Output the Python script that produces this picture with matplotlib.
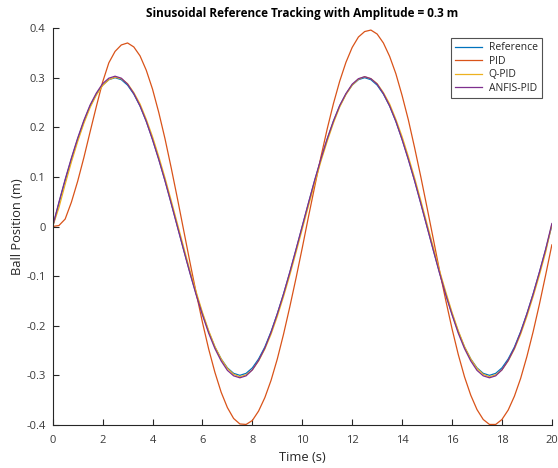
import numpy as np
import matplotlib
matplotlib.use("Agg")
import matplotlib.pyplot as plt

t_start, t_end, t_step = 0.0, 20.0, 0.25

reference = [
    0.000, 0.047, 0.093, 0.136, 0.176, 0.212, 0.243, 0.267, 0.285, 0.296,
    0.300, 0.296, 0.285, 0.267, 0.243, 0.212, 0.176, 0.136, 0.093, 0.047,
    0.000, -0.047, -0.093, -0.136, -0.176, -0.212, -0.243, -0.267, -0.285, -0.296,
    -0.300, -0.296, -0.285, -0.267, -0.243, -0.212, -0.176, -0.136, -0.093, -0.047,
    0.000, 0.047, 0.093, 0.136, 0.176, 0.212, 0.243, 0.267, 0.285, 0.296,
    0.300, 0.296, 0.285, 0.267, 0.243, 0.212, 0.176, 0.136, 0.093, 0.047,
    0.000, -0.047, -0.093, -0.136, -0.176, -0.212, -0.243, -0.267, -0.285, -0.296,
    -0.300, -0.296, -0.285, -0.267, -0.243, -0.212, -0.176, -0.136, -0.093, -0.047,
    0.002,
]

pid = [
    0.000, 0.002, 0.015, 0.049, 0.091, 0.139, 0.191, 0.242, 0.291, 0.330,
    0.353, 0.366, 0.370, 0.362, 0.344, 0.315, 0.277, 0.230, 0.177, 0.118,
    0.056, -0.008, -0.072, -0.134, -0.193, -0.247, -0.294, -0.334, -0.365, -0.387,
    -0.398, -0.399, -0.391, -0.372, -0.345, -0.310, -0.267, -0.217, -0.162, -0.104,
    -0.043, 0.020, 0.081, 0.141, 0.197, 0.248, 0.293, 0.331, 0.361, 0.382,
    0.393, 0.396, 0.388, 0.370, 0.343, 0.308, 0.264, 0.215, 0.159, 0.100,
    0.038, -0.025, -0.089, -0.149, -0.206, -0.258, -0.303, -0.340, -0.369, -0.389,
    -0.399, -0.399, -0.389, -0.370, -0.342, -0.306, -0.262, -0.212, -0.157, -0.098,
    -0.037,
]

q_pid = [
    0.000, 0.038, 0.085, 0.130, 0.171, 0.208, 0.240, 0.265, 0.284, 0.296,
    0.301, 0.298, 0.288, 0.270, 0.247, 0.216, 0.181, 0.141, 0.098, 0.052,
    0.005, -0.042, -0.089, -0.132, -0.173, -0.210, -0.242, -0.267, -0.286, -0.298,
    -0.303, -0.299, -0.289, -0.271, -0.247, -0.217, -0.181, -0.141, -0.098, -0.052,
    -0.005, 0.042, 0.088, 0.132, 0.172, 0.209, 0.241, 0.266, 0.285, 0.297,
    0.302, 0.298, 0.288, 0.270, 0.247, 0.216, 0.181, 0.141, 0.098, 0.052,
    0.005, -0.042, -0.089, -0.132, -0.173, -0.210, -0.242, -0.267, -0.286, -0.298,
    -0.303, -0.299, -0.289, -0.271, -0.247, -0.217, -0.181, -0.141, -0.098, -0.052,
    0.004,
]

anfis_pid = [
    0.000, 0.049, 0.095, 0.138, 0.178, 0.214, 0.245, 0.269, 0.288, 0.299,
    0.303, 0.299, 0.287, 0.268, 0.243, 0.212, 0.175, 0.135, 0.092, 0.046,
    -0.001, -0.048, -0.094, -0.138, -0.178, -0.215, -0.246, -0.271, -0.290, -0.301,
    -0.305, -0.301, -0.289, -0.270, -0.245, -0.213, -0.176, -0.136, -0.092, -0.046,
    0.001, 0.048, 0.094, 0.137, 0.177, 0.213, 0.244, 0.268, 0.287, 0.298,
    0.302, 0.298, 0.287, 0.268, 0.243, 0.212, 0.175, 0.135, 0.092, 0.046,
    -0.001, -0.048, -0.094, -0.138, -0.178, -0.215, -0.246, -0.271, -0.290, -0.301,
    -0.305, -0.301, -0.289, -0.270, -0.245, -0.213, -0.176, -0.136, -0.092, -0.046,
    0.006,
]

series_names = ["Reference", "PID", "Q-PID", "ANFIS-PID"]
series_colors = ["#0072BD", "#D95319", "#EDB120", "#7E2F8E"]
x_ticks = [0, 2, 4, 6, 8, 10, 12, 14, 16, 18, 20]
y_ticks = [-0.4, -0.3, -0.2, -0.1, 0, 0.1, 0.2, 0.3, 0.4]
y_tick_labels = ["-0.4", "-0.3", "-0.2", "-0.1", "0", "0.1", "0.2", "0.3", "0.4"]

plt.rcParams['font.family'] = ['Open Sans', 'DejaVu Sans']
gray = "#262626"
tick_gray = "#3a3a3a"

t = np.linspace(t_start, t_end, len(reference))

fig = plt.figure(figsize=(5.58, 4.68), dpi=100)
ax = fig.add_axes([0.0944, 0.092, 0.8946, 0.848])

for data, name, col in zip([reference, pid, q_pid, anfis_pid], series_names, series_colors):
    ax.plot(t, data, color=col, lw=0.9, label=name)

ax.set_xlim(0, 20)
ax.set_ylim(-0.4, 0.4)
ax.set_xticks(x_ticks)
ax.set_xticklabels([str(v) for v in x_ticks])
ax.set_yticks(y_ticks)
ax.set_yticklabels(y_tick_labels)

for s in ["top", "right"]:
    ax.spines[s].set_visible(False)
for s in ["left", "bottom"]:
    ax.spines[s].set_color(gray)
    ax.spines[s].set_linewidth(0.8)

ax.tick_params(direction="in", length=4, width=0.8, colors=gray,
               labelcolor=tick_gray, labelsize=8)
ax.tick_params(axis="x", pad=7)
ax.tick_params(axis="y", pad=5)

ax.set_xlabel("Time (s)", fontsize=9.3, color=gray, labelpad=4)
ax.set_ylabel("Ball Position (m)", fontsize=9.3, color=gray, labelpad=2)
ax.set_title("Sinusoidal Reference Tracking with Amplitude = 0.3 m",
             fontsize=8.5, fontweight="bold", color="black", pad=8)

leg = ax.legend(loc="upper right", bbox_to_anchor=(0.98, 0.975), fontsize=7.5,
                frameon=True, fancybox=False, borderpad=0.4, labelspacing=0.25,
                handlelength=2.6, handletextpad=0.6, borderaxespad=0.0)
leg.get_frame().set_edgecolor(gray)
leg.get_frame().set_linewidth(0.8)
for txt in leg.get_texts():
    txt.set_color(gray)

fig.savefig("out.png", dpi=100)
